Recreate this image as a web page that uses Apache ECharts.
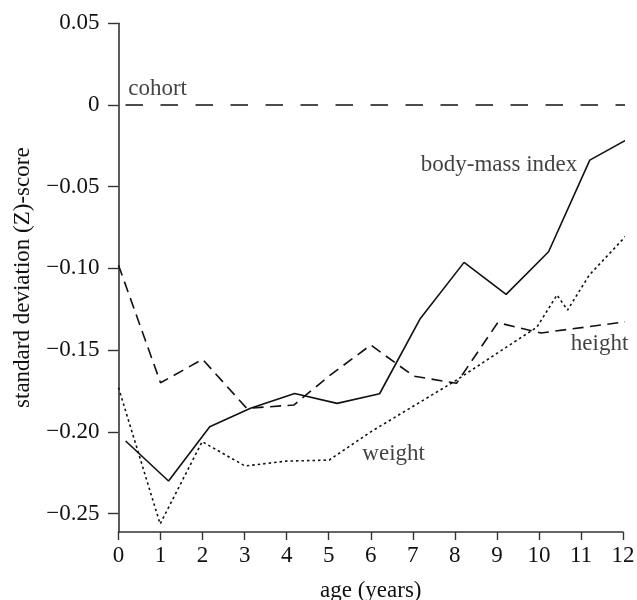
<!DOCTYPE html>
<html><head><meta charset="utf-8">
<script src="https://cdn.jsdelivr.net/npm/echarts@6/dist/echarts.min.js"></script>
<style>html,body{margin:0;padding:0;background:#fff}#c{width:637px;height:600px}</style>
</head><body><div id="c"></div>
<script>
// ---- data ----
const xTickValues = [0,1,2,3,4,5,6,7,8,9,10,11,12];
const yTickValues = [0.05, 0, -0.05, -0.10, -0.15, -0.20, -0.25];
const yTickLabels = ['0.05', '0', '\u22120.05', '\u22120.10', '\u22120.15', '\u22120.20', '\u22120.25'];

const cohortAge = [0, 12.33];
const cohortZ   = [0, 0];

const heightAge = [0, 1, 2, 3.05, 4.17, 5, 6, 7.02, 8.04, 9.02, 10.05, 12.08];
const heightZ   = [-0.098, -0.170, -0.1556, -0.1856, -0.1836, -0.166, -0.1469, -0.1659, -0.1703, -0.1332, -0.1395, -0.1326];

const bmiAge = [0.17, 1.19, 2.17, 3.14, 4.19, 5.2, 6.21, 7.18, 8.22, 9.22, 10.23, 11.21, 12.24];
const bmiZ   = [-0.2056, -0.2301, -0.1969, -0.1856, -0.1765, -0.1826, -0.1767, -0.1306, -0.0963, -0.1159, -0.0898, -0.0337, -0.019];

const weightAge = [0, 0.99, 1.99, 3.01, 4, 5.01, 6, 7, 8, 9, 9.95, 10.43, 10.68, 11.2, 12.24];
const weightZ   = [-0.173, -0.2564, -0.206, -0.2209, -0.2179, -0.2173, -0.2, -0.1845, -0.169, -0.152, -0.136, -0.1163, -0.1255, -0.104, -0.0755];

const labelNames = ['cohort', 'body-mass index', 'height', 'weight'];
const labelAge   = [0.23, 7.19, 10.76, 5.80];
const labelZ     = [0.010, -0.0369, -0.1461, -0.2134];

// ---- chart ----
const zip = (a, b) => a.map((v, i) => [v, b[i]]);
const FONT = 'Liberation Serif';
const INK = '#111';
const chart = echarts.init(document.getElementById('c'), null, {renderer: 'canvas'});

const lineSeries = (name, xs, ys, type, dash, offset) => ({
  name, type: 'line', data: zip(xs, ys), symbol: 'none', clip: false, silent: true,
  animation: false,
  lineStyle: {color: INK, width: 1.6, type: dash || type, dashOffset: offset || 0}
});

chart.setOption({
  animation: false,
  backgroundColor: '#fff',
  grid: {left: 118.5, right: 14, top: 23.3, bottom: 68, containLabel: false, outerBoundsMode: 'none'},
  xAxis: {
    type: 'value', min: 0, max: 12, interval: 1,
    name: 'age (years)', nameLocation: 'middle', nameGap: 47,
    nameTextStyle: {fontFamily: FONT, fontSize: 23, color: INK},
    axisLine: {show: true, onZero: false, lineStyle: {color: '#333', width: 1.6}},
    axisTick: {show: true, length: 8, lineStyle: {color: '#333', width: 1.4}, customValues: xTickValues},
    axisLabel: {fontFamily: FONT, fontSize: 23, color: INK, margin: 12, customValues: xTickValues,
      formatter: v => String(v)},
    splitLine: {show: false}
  },
  yAxis: {
    type: 'value', min: -0.2613, max: 0.05,
    name: 'standard deviation (Z)-score', nameLocation: 'middle', nameGap: 84, nameRotate: 90,
    nameTextStyle: {fontFamily: FONT, fontSize: 23, color: INK},
    axisLine: {show: true, onZero: false, lineStyle: {color: '#333', width: 1.6}},
    axisTick: {show: true, length: 10.5, lineStyle: {color: '#333', width: 1.4}, customValues: yTickValues},
    axisLabel: {fontFamily: FONT, fontSize: 23, color: INK, margin: 19, customValues: yTickValues,
      formatter: v => {
        const i = yTickValues.findIndex(t => Math.abs(t - v) < 1e-9);
        return i >= 0 ? yTickLabels[i] : '';
      }},
    splitLine: {show: false}
  },
  series: [
    lineSeries('cohort', cohortAge, cohortZ, 'dashed', [17.5, 17.5], 28),
    lineSeries('height', heightAge, heightZ, 'dashed', [11, 6.5], 0),
    lineSeries('body-mass index', bmiAge, bmiZ, 'solid'),
    lineSeries('weight', weightAge, weightZ, 'dotted', [2.5, 3], 0),
    {
      type: 'scatter', silent: true, symbolSize: 0, clip: false,
      data: labelNames.map((n, i) => ({name: n, value: [labelAge[i], labelZ[i]]})),
      label: {show: true, position: 'right', distance: 0, formatter: p => p.name,
        fontFamily: FONT, fontSize: 23, color: INK}
    }
  ]
});
</script></body></html>
